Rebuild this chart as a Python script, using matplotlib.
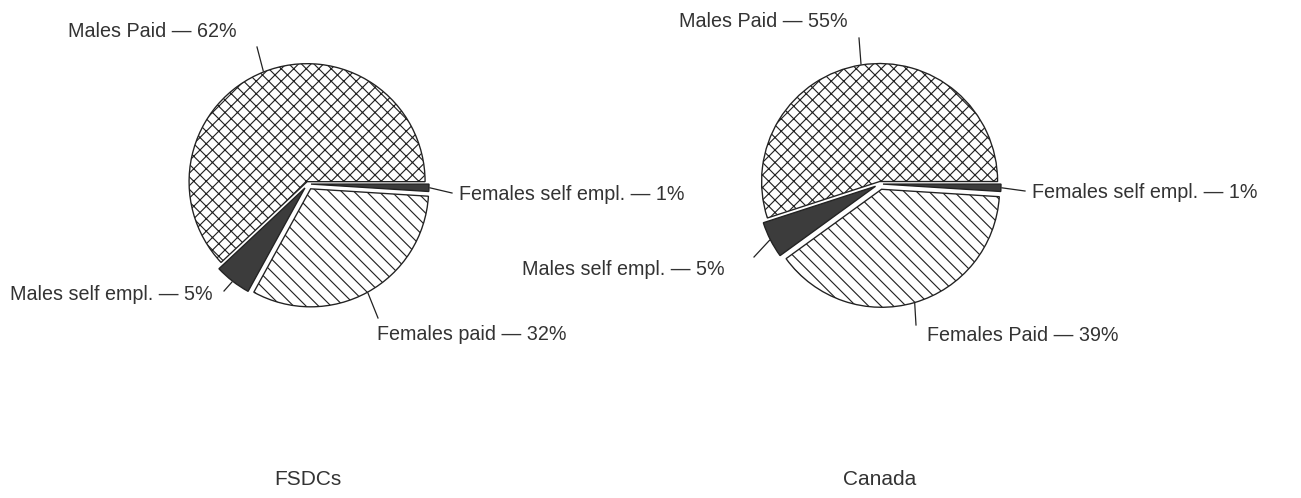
import numpy as np
import matplotlib.pyplot as plt

plt.rcParams['font.family'] = ['Liberation Sans', 'DejaVu Sans']
plt.rcParams['hatch.linewidth'] = 1.1
plt.rcParams['hatch.color'] = '#2a2a2a'

# data
fsdc_labels = ['Males Paid', 'Males self empl.', 'Females paid', 'Females self empl.']
fsdc_pct = [62, 5, 32, 1]
canada_labels = ['Males Paid', 'Males self empl.', 'Females Paid', 'Females self empl.']
canada_pct = [55, 5, 39, 1]
titles = ['FSDCs', 'Canada']

# styling / layout (pixel coordinates, y down)
W, H, DPI = 1301, 498, 75
hatches = ['xx', '', '\\\\', '']
fills = ['white', '#3c3c3c', 'white', '#3c3c3c']
explode = [2.5, 5, 5.5, 3]      # in pixels
centers = [(308, 184), (880, 184)]
radius = 118
title_y = 485
text_pos = [
    [(68, 37), (10, 300), (377, 340), (459, 200)],
    [(679, 27), (522, 275), (927, 341), (1032, 198)],
]
leader_end = [
    [(257, 47), (224, 291), (378, 318), (452, 193)],
    [(859, 38), (754, 257), (916, 325), (1025, 191)],
]

fig = plt.figure(figsize=(W / DPI, H / DPI), dpi=DPI)
ax = fig.add_axes([0, 0, 1, 1])

for k, (labels, pct) in enumerate([(fsdc_labels, fsdc_pct), (canada_labels, canada_pct)]):
    cx, cy = centers[k]
    # y axis is inverted, so clockwise in data = counterclockwise on screen
    wedges, _ = ax.pie(pct, explode=explode, startangle=0, counterclock=False,
                       center=(cx, cy), radius=radius, colors=fills, hatch=hatches,
                       wedgeprops=dict(edgecolor='#222222', linewidth=1.3))
    cum = np.cumsum([0] + pct) / sum(pct)
    for i, lab in enumerate(labels):
        mid = np.deg2rad((cum[i] + cum[i + 1]) / 2 * 360)
        rr = radius + explode[i] + 1
        x0, y0 = cx + rr * np.cos(mid), cy - rr * np.sin(mid)
        x1, y1 = leader_end[k][i]
        ax.plot([x0, x1], [y0, y1], color='#222222', lw=1.2)
        tx, ty = text_pos[k][i]
        ax.text(tx, ty, f'{lab} — {pct[i]}%', ha='left', va='baseline',
                fontsize=19, color='#333333')
    ax.text(cx, title_y, titles[k], ha='center', va='baseline', fontsize=20, color='#333333')

ax.set_xlim(0, W)
ax.set_ylim(H, 0)
ax.axis('off')
fig.savefig('out.png', dpi=DPI, facecolor='white')
